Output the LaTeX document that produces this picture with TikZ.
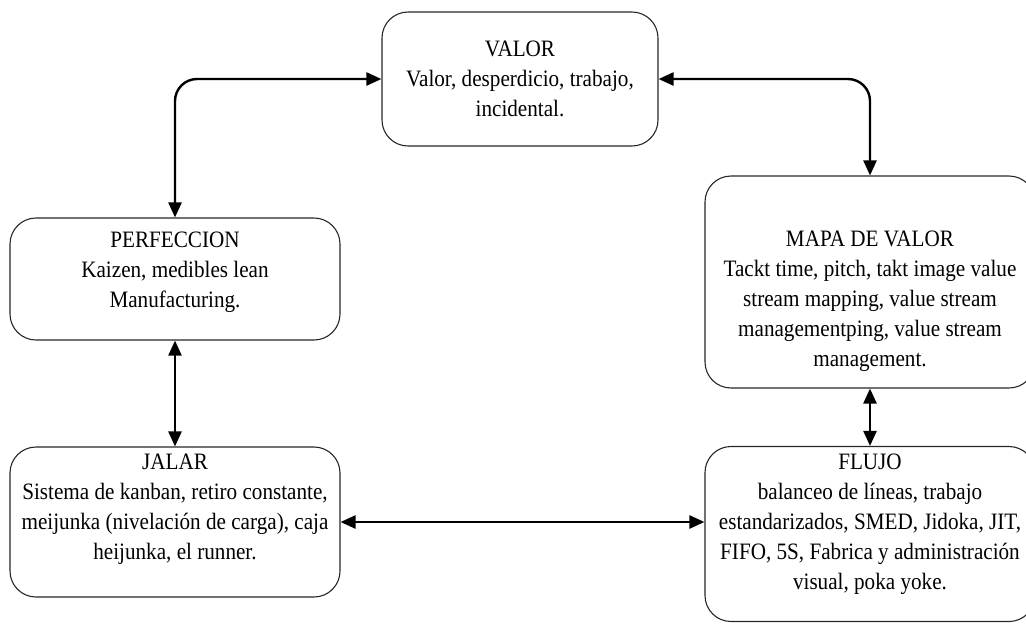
\documentclass[tikz,border=0pt]{standalone}
\usepackage{fontspec}
\setmainfont{Liberation Serif}[FakeStretch=0.90]
\usetikzlibrary{arrows.meta}
\begin{document}
\begin{tikzpicture}[x=1pt,y=-1pt,
 box/.style={draw=black!85, line width=1.1pt, rounded corners=26pt, inner sep=0pt},
 lbl/.style={align=center, font=\fontsize{23.5}{30}\selectfont, inner sep=0pt},
 link/.style={line width=2.4pt, {Triangle[length=15pt,width=13pt]}-{Triangle[length=15pt,width=13pt]}}]
\useasboundingbox (0,0) rectangle (1026,625);
\clip (0,0) rectangle (1026,625);
\node[box, minimum width=276pt, minimum height=134pt] (valor) at (520,79) {};
\node[box, minimum width=330pt, minimum height=212pt] (mapa) at (870,282) {};
\node[box, minimum width=330pt, minimum height=122pt] (perf) at (175,279) {};
\node[box, minimum width=330pt, minimum height=150pt] (jalar) at (175,522) {};
\node[box, minimum width=330pt, minimum height=175pt] (flujo) at (870,534) {};
\node[lbl] (valort) at (520,79) {VALOR\\Valor, desperdicio, trabajo,\\incidental.};
\node[lbl] (mapat) at (870,301) {MAPA DE VALOR\\Tackt time, pitch, takt image value\\stream mapping, value stream\\managementping, value stream\\management.};
\node[lbl] (perft) at (175,272) {PERFECCION\\Kaizen, medibles lean\\Manufacturing.};
\node[lbl] (jalart) at (175,509) {JALAR\\Sistema de kanban, retiro constante,\\meijunka (nivelación de carga), caja\\heijunka, el runner.};
\node[lbl] (flujot) at (870,524) {FLUJO\\balanceo de líneas, trabajo\\estandarizados, SMED, Jidoka, JIT,\\FIFO, 5S, Fabrica y administración\\visual, poka yoke.};
\draw[link, rounded corners=22pt] (valor.west) -- (valor.west -| perf.north) -- (perf.north);
\draw[link, rounded corners=22pt] (valor.east) -- (valor.east -| mapa.north) -- (mapa.north);
\draw[link] (perf.south) -- (jalar.north);
\draw[link] (mapa.south) -- (flujo.north);
\draw[link] (jalar.east) -- (jalar.east -| flujo.west);
\end{tikzpicture}
\end{document}
